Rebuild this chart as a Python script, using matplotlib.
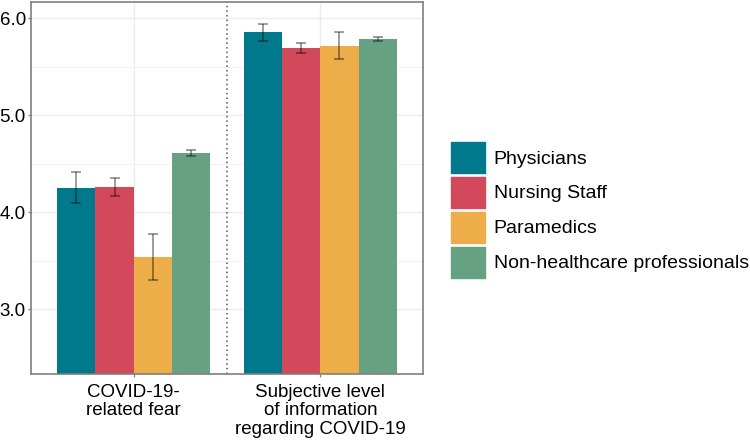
import matplotlib.pyplot as plt
import numpy as np

plt.rcParams['font.family'] = ['Liberation Sans', 'DejaVu Sans']

categories = ['COVID-19-\nrelated fear',
              'Subjective level\nof information\nregarding COVID-19']
groups = ['Physicians', 'Nursing Staff', 'Paramedics', 'Non-healthcare professionals']
colors = ['#00798c', '#d1495b', '#edae49', '#66a182']

# mean values per group, one entry per category
means = {
    'Physicians': [4.25, 5.86],
    'Nursing Staff': [4.26, 5.69],
    'Paramedics': [3.54, 5.72],
    'Non-healthcare professionals': [4.61, 5.79],
}
err_low = {
    'Physicians': [4.10, 5.77],
    'Nursing Staff': [4.17, 5.64],
    'Paramedics': [3.30, 5.58],
    'Non-healthcare professionals': [4.58, 5.77],
}
err_high = {
    'Physicians': [4.41, 5.94],
    'Nursing Staff': [4.35, 5.75],
    'Paramedics': [3.78, 5.86],
    'Non-healthcare professionals': [4.64, 5.81],
}

ymin = 2.33

fig = plt.figure(figsize=(7.5, 4.44), dpi=100)
ax = fig.add_axes([0.0413, 0.1577, 0.5227, 0.8378])

x = np.arange(1, len(categories) + 1)
width = 0.82 / len(groups)

for i, g in enumerate(groups):
    pos = x - 0.41 + width * (i + 0.5)
    m = np.array(means[g])
    ax.bar(pos, m - ymin, bottom=ymin, width=width, color=colors[i],
           edgecolor='none', zorder=2)
    lo = m - np.array(err_low[g])
    hi = np.array(err_high[g]) - m
    ax.errorbar(pos, m, yerr=[lo, hi], fmt='none', ecolor='black', alpha=0.45,
                elinewidth=1.2, capsize=3.5, capthick=1.2, zorder=3)

ax.axvline(1.5, color='#555555', linestyle=(0, (1, 2)), linewidth=1.1, zorder=1)

ax.set_xlim(0.45, 2.55)
ax.set_ylim(ymin, 6.17)
ax.set_yticks([3.0, 4.0, 5.0, 6.0])
ax.set_yticklabels(['3.0', '4.0', '5.0', '6.0'], fontsize=13.5)
ax.set_yticks([3.5, 4.5, 5.5], minor=True)
ax.set_xticks(x)
ax.set_xticklabels(categories, fontsize=13.5, linespacing=1.1)
ax.tick_params(axis='both', length=2.2, width=0.9, color='#7f7f7f', pad=1.5)
ax.tick_params(axis='x', pad=5)
ax.tick_params(axis='y', which='minor', length=0)
ax.grid(True, which='major', color='#ebebeb', linewidth=1.0, zorder=0)
ax.grid(True, which='minor', axis='y', color='#f2f2f2', linewidth=0.8, zorder=0)
ax.set_axisbelow(True)
for s in ax.spines.values():
    s.set_color('#7f7f7f')
    s.set_linewidth(1.2)

handles = [plt.Rectangle((0, 0), 1, 1, color=c) for c in colors]
fig.legend(handles, groups, loc='upper left', bbox_to_anchor=(0.5907, 0.698),
           frameon=False, fontsize=14, handlelength=1.75, handleheight=2.08,
           handletextpad=0.46, labelspacing=0.2, borderaxespad=0)

fig.savefig('out.png', dpi=100)
